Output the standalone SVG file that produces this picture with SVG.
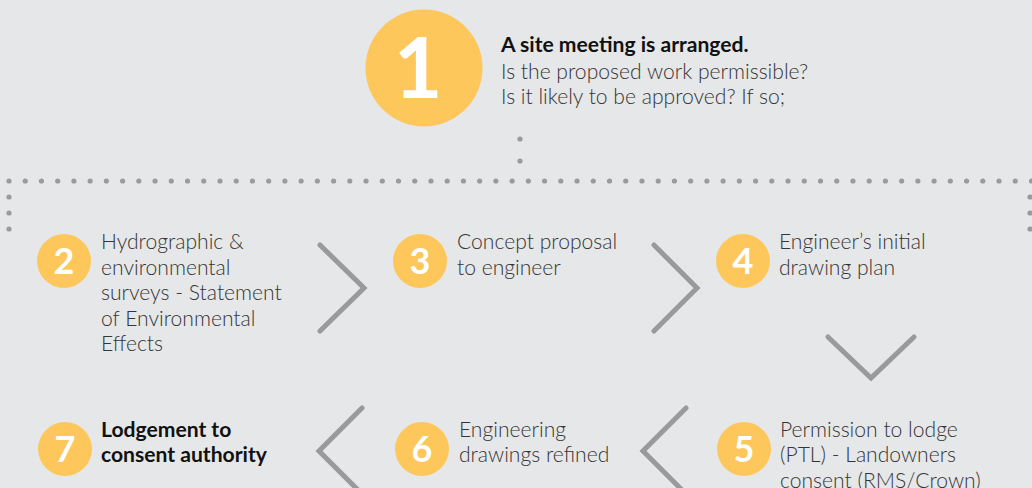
<svg xmlns="http://www.w3.org/2000/svg" width="1032" height="488" viewBox="0 0 1032 488">
<defs>
<style>
.bg{fill:#e6e7e8}
.c{fill:#fec75c}
.n{fill:#fff;font-family:Lato,"Open Sans",sans-serif;font-weight:700;text-anchor:middle}
.t{fill:#353535;font-family:Lato,"Open Sans",sans-serif;font-size:21.1px;font-weight:300}
.b{fill:#111;font-weight:700}
.ch{fill:none;stroke:#999a9b;stroke-width:5;stroke-linecap:round;stroke-linejoin:miter}
.dot{fill:#9a9b9c}
</style>
</defs>
<rect class="bg" x="0" y="0" width="1032" height="488"/>
<g id="connectors">
<g id="dots">
<circle class="dot" cx="520" cy="139" r="2.6"/>
<circle class="dot" cx="520" cy="161" r="2.6"/>
<circle class="dot" cx="9" cy="197" r="2.6"/>
<circle class="dot" cx="9" cy="213" r="2.6"/>
<circle class="dot" cx="9" cy="229" r="2.6"/>
<circle class="dot" cx="1030" cy="197" r="2.6"/>
<circle class="dot" cx="1030" cy="213" r="2.6"/>
<circle class="dot" cx="1030" cy="229" r="2.6"/>
<line x1="9" y1="181" x2="1032" y2="181" stroke="#9a9b9c" stroke-width="5.2" stroke-linecap="round" stroke-dasharray="0 16.23"/>
</g>
<polyline class="ch" points="320,245 364,288 320,331"/>
<polyline class="ch" points="654,245 697,288 654,331"/>
<polyline class="ch" points="828,337 871,378 914,337"/>
<polyline class="ch" points="362,408 319,451 362,494"/>
<polyline class="ch" points="686,408 643,451 686,494"/>
</g>
<g id="node1">
<circle class="c" cx="424" cy="68" r="58.5"/>
<text class="n" x="418" y="98" font-size="84">1</text>
<text class="t b" x="501" y="52">A site meeting is arranged.</text>
<text class="t" x="501" y="79">Is the proposed work permissible?</text>
<text class="t" x="501" y="104">Is it likely to be approved? If so;</text>
</g>
<g id="node2">
<circle class="c" cx="64" cy="261" r="27"/>
<text class="n" x="64" y="274" font-size="36">2</text>
<text class="t"><tspan x="101" y="249">Hydrographic &amp;</tspan><tspan x="101" y="275">environmental</tspan><tspan x="101" y="300">surveys - Statement</tspan><tspan x="101" y="326">of Environmental</tspan><tspan x="101" y="351">Effects</tspan></text>
</g>
<g id="node3">
<circle class="c" cx="420" cy="261" r="27"/>
<text class="n" x="420" y="274" font-size="36">3</text>
<text class="t"><tspan x="457" y="249">Concept proposal</tspan><tspan x="457" y="275">to engineer</tspan></text>
</g>
<g id="node4">
<circle class="c" cx="743" cy="261" r="27"/>
<text class="n" x="743" y="274" font-size="36">4</text>
<text class="t"><tspan x="779" y="249">Engineer’s initial</tspan><tspan x="779" y="275">drawing plan</tspan></text>
</g>
<g id="node5">
<circle class="c" cx="744" cy="449" r="27"/>
<text class="n" x="744" y="462" font-size="36">5</text>
<text class="t"><tspan x="780" y="437">Permission to lodge</tspan><tspan x="780" y="462">(PTL) - Landowners</tspan><tspan x="780" y="488">consent (RMS/Crown)</tspan></text>
</g>
<g id="node6">
<circle class="c" cx="422" cy="449" r="27"/>
<text class="n" x="422" y="462" font-size="36">6</text>
<text class="t"><tspan x="459" y="437">Engineering</tspan><tspan x="459" y="462">drawings refined</tspan></text>
</g>
<g id="node7">
<circle class="c" cx="65" cy="449" r="27"/>
<text class="n" x="65" y="462" font-size="36">7</text>
<text class="t b"><tspan x="101" y="437">Lodgement to</tspan><tspan x="101" y="462">consent authority</tspan></text>
</g>
</svg>
